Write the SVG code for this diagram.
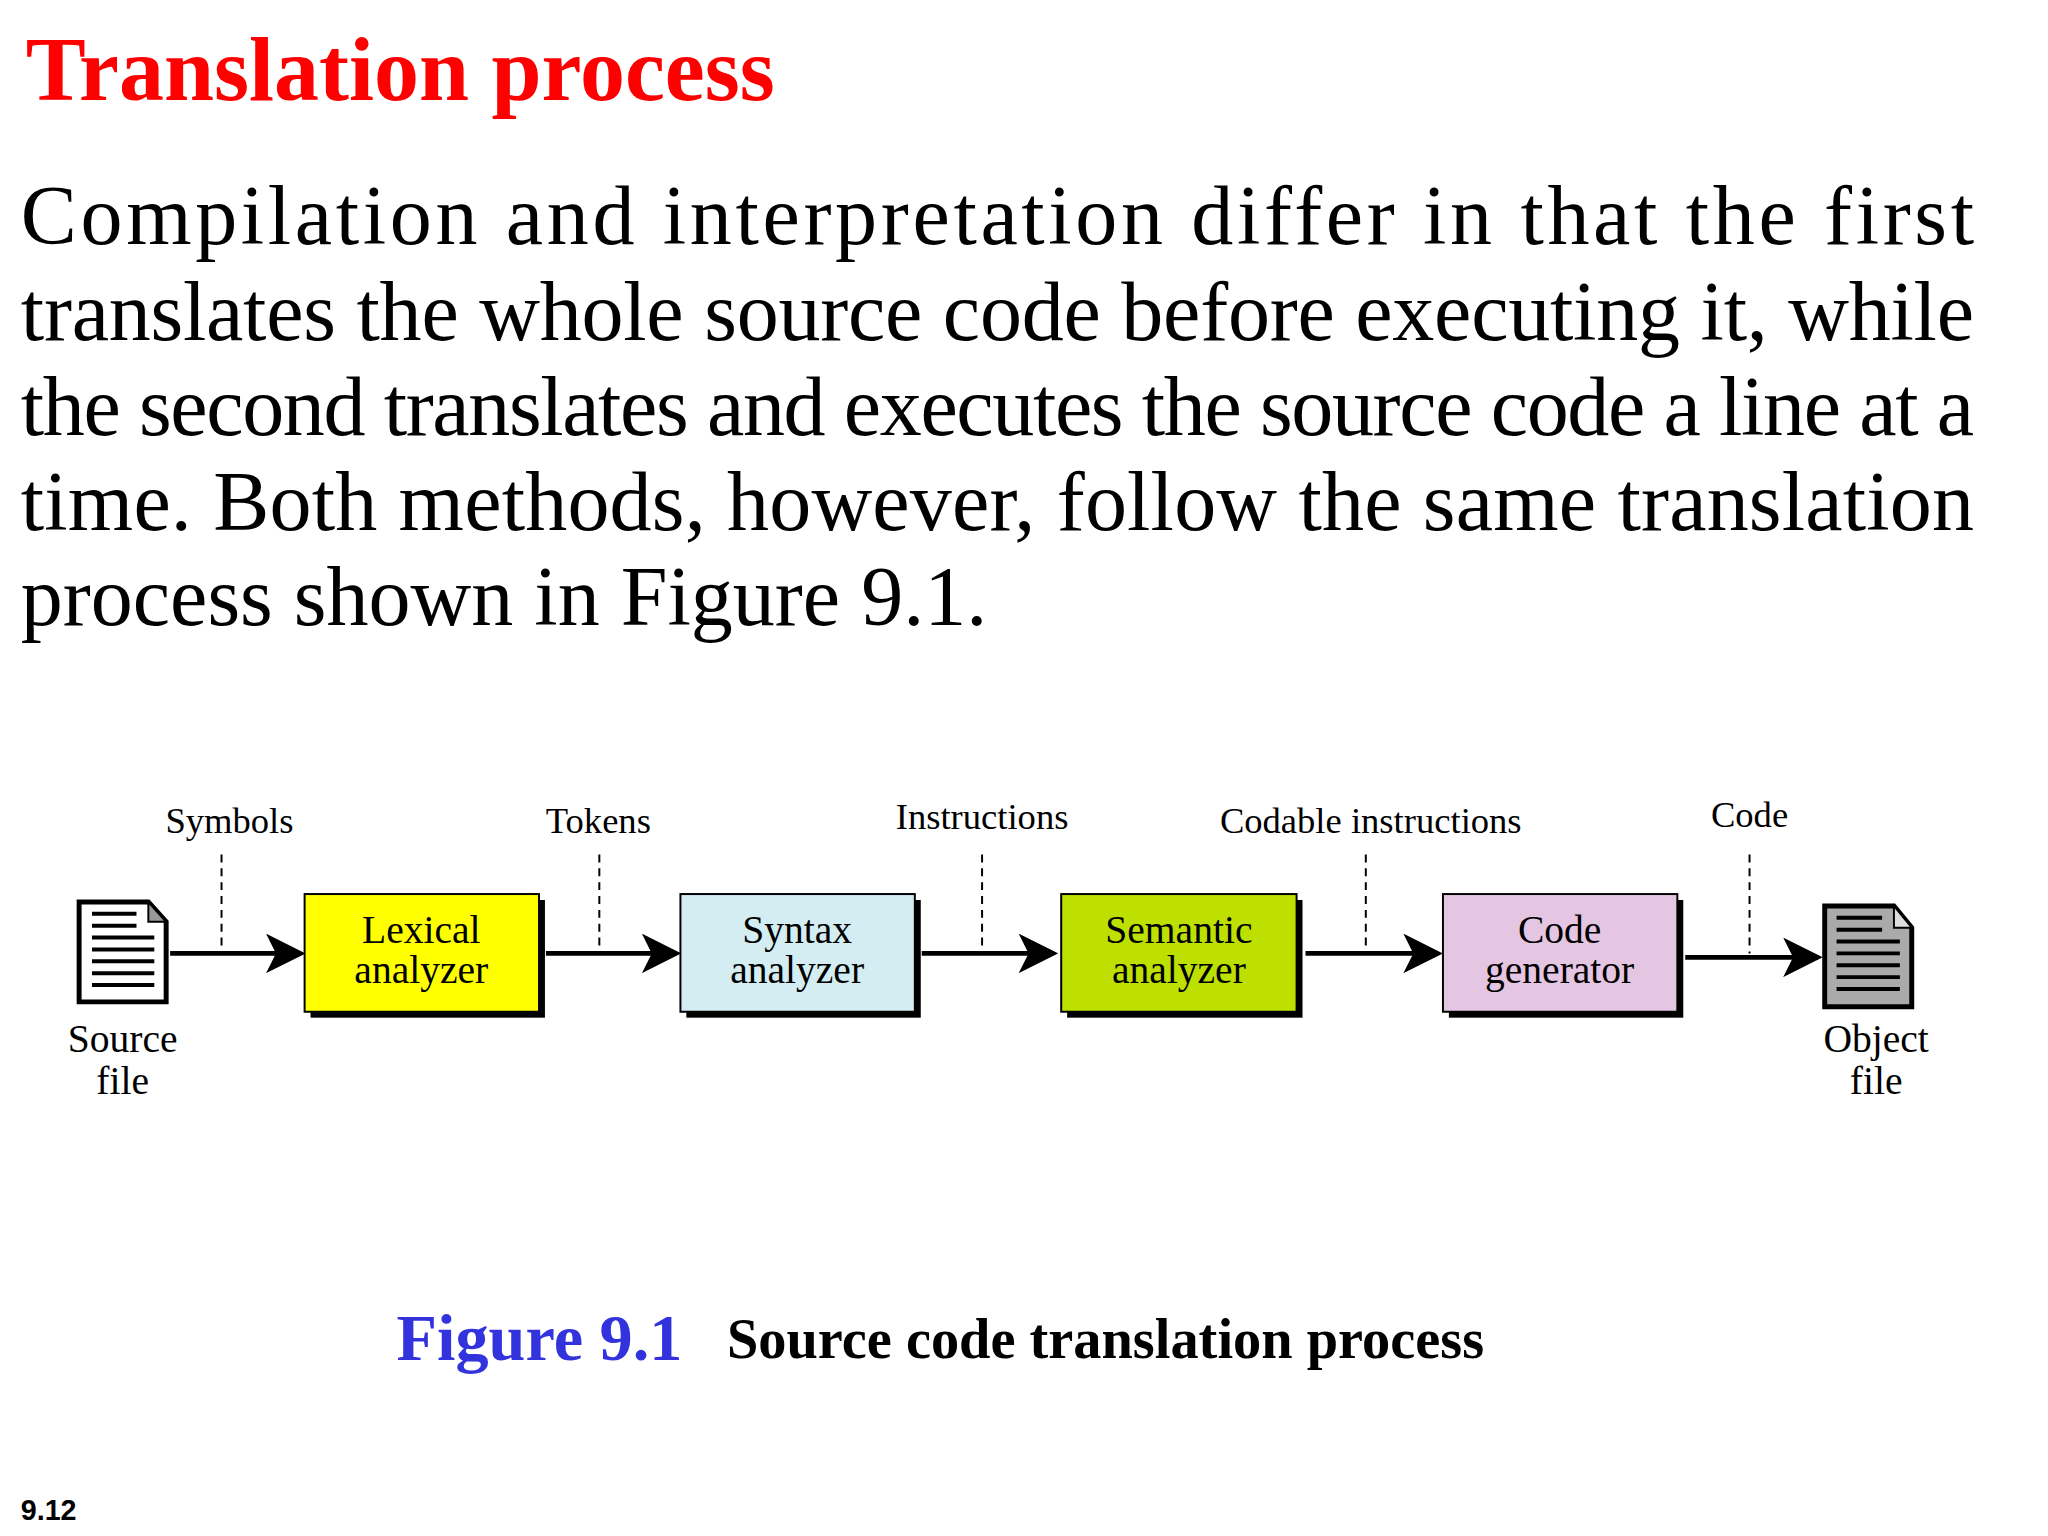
<svg xmlns="http://www.w3.org/2000/svg" width="2048" height="1536" viewBox="0 0 2048 1536">
<style>
.p{font-family:"Liberation Serif",serif;font-size:85px;fill:#000}
.l{font-family:"Liberation Serif",serif;font-size:37px;fill:#000}
.b{font-family:"Liberation Serif",serif;font-size:40px;fill:#000;text-anchor:middle}
.c{stroke:#000;stroke-width:5;fill:none}
.d{stroke:#000;stroke-width:2;stroke-dasharray:8,6}
.sh{fill:#000}
.bx{stroke:#000;stroke-width:2}
.ln{stroke:#000;stroke-width:4}
</style>
<defs>
<marker id="ah" markerWidth="8" markerHeight="8" refX="7" refY="4" orient="auto" markerUnits="strokeWidth"><path d="M0,0 L8,4 L0,8 L2,4 Z" fill="#000"/></marker>
</defs>
<rect width="2048" height="1536" fill="#fff"/>
<g transform="scale(0.989)">
<text x="26" y="101" font-family="Liberation Serif,serif" font-weight="bold" font-size="91" fill="#f00">Translation process</text>
<text class="p" x="21" y="247" textLength="1975" lengthAdjust="spacing">Compilation and interpretation differ in that the first</text>
<text class="p" x="21" y="344" textLength="1975" lengthAdjust="spacing">translates the whole source code before executing it, while</text>
<text class="p" x="21" y="440" textLength="1975" lengthAdjust="spacing">the second translates and executes the source code a line at a</text>
<text class="p" x="21" y="536" textLength="1975" lengthAdjust="spacing">time. Both methods, however, follow the same translation</text>
<text class="p" x="21" y="632">process shown in Figure 9.1.</text>

<g id="connectors">
<line class="c" x1="172" y1="964" x2="304" y2="964" marker-end="url(#ah)"/>
<line class="c" x1="552" y1="964" x2="684" y2="964" marker-end="url(#ah)"/>
<line class="c" x1="932" y1="964" x2="1065" y2="964" marker-end="url(#ah)"/>
<line class="c" x1="1320" y1="964" x2="1454" y2="964" marker-end="url(#ah)"/>
<line class="c" x1="1704" y1="968" x2="1838" y2="968" marker-end="url(#ah)"/>
<line class="d" x1="224" y1="864" x2="224" y2="960"/>
<line class="d" x1="606" y1="864" x2="606" y2="960"/>
<line class="d" x1="993" y1="864" x2="993" y2="960"/>
<line class="d" x1="1381" y1="864" x2="1381" y2="960"/>
<line class="d" x1="1769" y1="864" x2="1769" y2="964"/>
<text class="l" x="232" y="842" text-anchor="middle">Symbols</text>
<text class="l" x="605" y="842" text-anchor="middle">Tokens</text>
<text class="l" x="993" y="838" text-anchor="middle">Instructions</text>
<text class="l" x="1386" y="842" text-anchor="middle">Codable instructions</text>
<text class="l" x="1769" y="836" text-anchor="middle">Code</text>
</g>

<g id="source">
<path d="M80,912 H150 L168,932 V1013 H80 Z" fill="#fff" stroke="#000" stroke-width="5"/>
<path d="M150,912 V932 H168 Z" fill="#999" stroke="#000" stroke-width="2"/>
<g class="ln"><line x1="93" y1="924" x2="138" y2="924"/><line x1="93" y1="936" x2="138" y2="936"/><line x1="93" y1="948" x2="156" y2="948"/><line x1="93" y1="960" x2="156" y2="960"/><line x1="93" y1="972" x2="156" y2="972"/><line x1="93" y1="984" x2="156" y2="984"/><line x1="93" y1="996" x2="156" y2="996"/></g>
<text class="b" x="124" y="1064">Source</text>
<text class="b" x="124" y="1106">file</text>
</g>

<g id="lexical">
<rect class="sh" x="314" y="910" width="237" height="119"/>
<rect class="bx" x="308" y="904" width="237" height="119" fill="#ffff00"/>
<text class="b" x="426" y="953">Lexical</text><text class="b" x="426" y="994">analyzer</text>
</g>
<g id="syntax">
<rect class="sh" x="694" y="910" width="237" height="119"/>
<rect class="bx" x="688" y="904" width="237" height="119" fill="#d3edf2"/>
<text class="b" x="806" y="953">Syntax</text><text class="b" x="806" y="994">analyzer</text>
</g>
<g id="semantic">
<rect class="sh" x="1079" y="910" width="238" height="119"/>
<rect class="bx" x="1073" y="904" width="238" height="119" fill="#bde000"/>
<text class="b" x="1192" y="953">Semantic</text><text class="b" x="1192" y="994">analyzer</text>
</g>
<g id="codegen">
<rect class="sh" x="1465" y="910" width="237" height="119"/>
<rect class="bx" x="1459" y="904" width="237" height="119" fill="#e5c6e2"/>
<text class="b" x="1577" y="953">Code</text><text class="b" x="1577" y="994">generator</text>
</g>

<g id="object">
<path d="M1845,916 H1915 L1933,938 V1018 H1845 Z" fill="#aaa" stroke="#000" stroke-width="5"/>
<path d="M1915,916 V938 H1933 Z" fill="#ddd" stroke="#000" stroke-width="2"/>
<g class="ln"><line x1="1857" y1="928" x2="1903" y2="928"/><line x1="1857" y1="940" x2="1903" y2="940"/><line x1="1857" y1="952" x2="1921" y2="952"/><line x1="1857" y1="964" x2="1921" y2="964"/><line x1="1857" y1="976" x2="1921" y2="976"/><line x1="1857" y1="988" x2="1921" y2="988"/><line x1="1857" y1="1000" x2="1921" y2="1000"/></g>
<text class="b" x="1897" y="1064">Object</text>
<text class="b" x="1897" y="1106">file</text>
</g>

<text x="401" y="1375" font-family="Liberation Serif,serif" font-weight="bold" font-size="67" fill="#3333dd">Figure 9.1</text>
<text x="735" y="1373" font-family="Liberation Serif,serif" font-weight="bold" font-size="57" fill="#000">Source code translation process</text>
<text x="21" y="1537" font-family="Liberation Sans,Arial,sans-serif" font-weight="bold" font-size="29" fill="#000">9.12</text>
</g>
</svg>
